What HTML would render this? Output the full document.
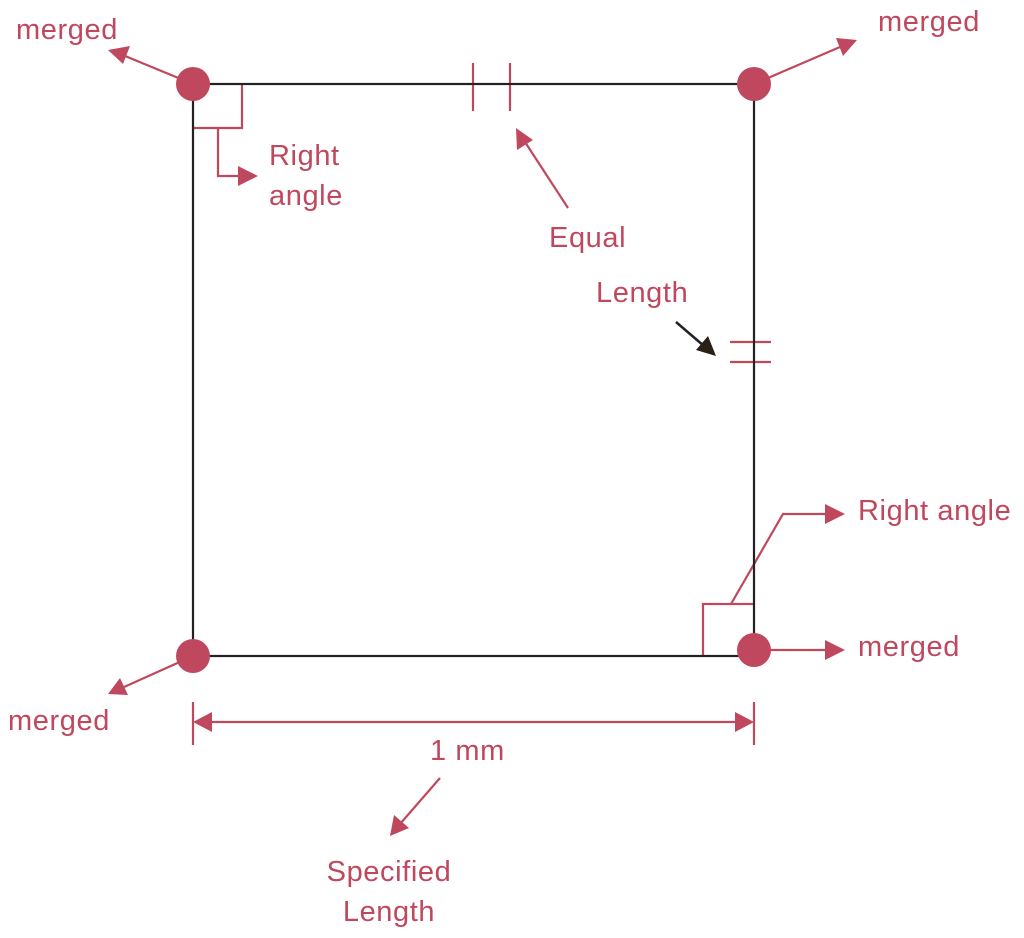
<!DOCTYPE html>
<html><head><meta charset="utf-8"><style>
html,body{margin:0;padding:0;background:#fff;}
svg{display:block;}
text{font-family:"Liberation Sans",sans-serif;font-size:29px;letter-spacing:0.6px;fill:#c0485e;}
</style></head><body>
<svg width="1024" height="938" viewBox="0 0 1024 938" xmlns="http://www.w3.org/2000/svg">
<g stroke="#c0485e" stroke-width="2.2" fill="none">
<polyline points="193,128 242,128 242,84"/>
<polyline points="218,128 218,176 240,176"/>
<line x1="473" y1="63" x2="473" y2="111"/><line x1="510" y1="63" x2="510" y2="111"/>
<line x1="730" y1="342" x2="771" y2="342"/><line x1="730" y1="362" x2="771" y2="362"/>
<polyline points="703,656 703,604 754,604"/>
<polyline points="731,604 783,514 828,514"/>
<line x1="193" y1="84" x2="125" y2="56"/>
<line x1="754" y1="84" x2="840" y2="47"/>
<line x1="568" y1="208" x2="525" y2="142"/>
<line x1="754" y1="650" x2="828" y2="650"/>
<line x1="193" y1="656" x2="124" y2="687"/>
<line x1="440" y1="778" x2="400" y2="824"/>
<line x1="193" y1="702" x2="193" y2="745"/><line x1="754" y1="702" x2="754" y2="745"/>
<line x1="205" y1="722" x2="742" y2="722"/>
</g>
<rect x="193" y="84" width="561" height="572" fill="none" stroke="#222" stroke-width="2.2"/>
<g fill="#c0485e">
<polygon points="258,176 238,166 238,186"/>
<polygon points="108,50 130,46 123,64"/>
<polygon points="857,40 843,56 836,38"/>
<polygon points="516,128 533,140 517,150"/>
<polygon points="845,514 825,504 825,524"/>
<polygon points="845,650 825,640 825,660"/>
<polygon points="108,694 120,678 128,695"/>
<polygon points="390,836 394,815 409,828"/>
<polygon points="193,722 212,712 212,732"/>
<polygon points="754,722 735,712 735,732"/>
<circle cx="193" cy="84" r="17"/>
<circle cx="754" cy="84" r="17"/>
<circle cx="193" cy="656" r="17"/>
<circle cx="754" cy="650" r="17"/>
</g>
<line x1="676" y1="322" x2="704" y2="346" stroke="#222" stroke-width="2.5"/>
<polygon points="716,356 696,350 708,336" fill="#2a2015"/>
<text x="16" y="39">merged</text>
<text x="878" y="31">merged</text>
<text x="269" y="165">Right</text>
<text x="269" y="205">angle</text>
<text x="549" y="247">Equal</text>
<text x="596" y="302">Length</text>
<text x="858" y="520">Right angle</text>
<text x="858" y="656">merged</text>
<text x="8" y="730">merged</text>
<text x="430" y="760">1 mm</text>
<text x="389" y="881" text-anchor="middle">Specified</text>
<text x="389" y="921" text-anchor="middle">Length</text>
</svg>
</body></html>
